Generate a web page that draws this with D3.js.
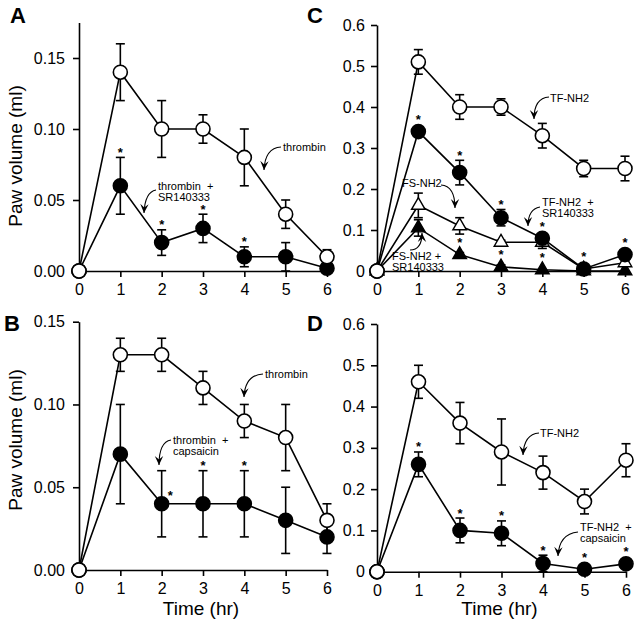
<!DOCTYPE html>
<html>
<head>
<meta charset="utf-8">
<script src="https://cdn.jsdelivr.net/npm/d3@7"></script>
<style>
  html, body { margin: 0; padding: 0; background: #fff; }
  svg { display: block; }
  text { font-family: "Liberation Sans", Arial, Helvetica, sans-serif; }
</style>
</head>
<body>
<svg id="chart" width="640" height="627"></svg>
<script>
// ---------- data ----------
const timeHr = [0, 1, 2, 3, 4, 5, 6];
const xTickValues = [0, 1, 2, 3, 4, 5, 6];

// Panel A
const aThrombin      = [0, 0.14, 0.10, 0.10, 0.08, 0.04, 0.01];
const aThrombinErr   = [0, 0.02, 0.02, 0.01, 0.02, 0.01, 0.005];
const aThrombinSR    = [0, 0.06, 0.02, 0.03, 0.01, 0.01, 0.002];
const aThrombinSRErr = [0, 0.02, 0.009, 0.01, 0.007, 0.01, 0];
const aThrombinSRStars = [1, 2, 3, 4];
const aYTicks = [0, 0.05, 0.10, 0.15];

// Panel B
const bThrombin        = [0, 0.13, 0.13, 0.11, 0.09, 0.08, 0.03];
const bThrombinErr     = [0, 0.01, 0.01, 0.01, 0.01, 0.02, 0.01];
const bThrombinCaps    = [0, 0.07, 0.04, 0.04, 0.04, 0.03, 0.02];
const bThrombinCapsErr = [0, 0.03, 0.02, 0.02, 0.02, 0.02, 0.01];
const bThrombinCapsStars = [2, 3, 4];
const bThrombinCapsStarsBeside = [2];
const bYTicks = [0, 0.05, 0.10, 0.15];

// Panel C
const cTF      = [0, 0.51, 0.40, 0.40, 0.33, 0.25, 0.25];
const cTFErr   = [0, 0.03, 0.03, 0.02, 0.03, 0.02, 0.03];
const cTFSR    = [0, 0.34, 0.24, 0.13, 0.08, 0.005, 0.04];
const cTFSRErr = [0, 0.01, 0.03, 0.02, 0.01, 0, 0.005];
const cTFSRStars = [1, 2, 3, 4, 5, 6];
const cFS      = [0, 0.16, 0.11, 0.07, 0.07, 0.005, 0.02];
const cFSErr   = [0, 0.03, 0.02, 0.005, 0.015, 0, 0.005];
const cFSSR    = [0, 0.105, 0.04, 0.01, 0.003, 0, 0];
const cFSSRErr = [0, 0.02, 0.005, 0.005, 0, 0, 0];
const cFSSRStars = [2, 3, 4];
const cYTicks = [0, 0.1, 0.2, 0.3, 0.4, 0.5, 0.6];

// Panel D
const dTF        = [0, 0.46, 0.36, 0.29, 0.24, 0.17, 0.27];
const dTFErr     = [0, 0.04, 0.05, 0.08, 0.04, 0.03, 0.04];
const dTFCaps    = [0, 0.26, 0.10, 0.093, 0.02, 0.006, 0.019];
const dTFCapsErr = [0, 0.03, 0.03, 0.03, 0.02, 0, 0];
const dTFCapsStars = [1, 2, 3, 4, 5, 6];
const dYTicks = [0, 0.1, 0.2, 0.3, 0.4, 0.5, 0.6];

// ---------- drawing ----------
const svg = d3.select("#chart");
svg.append("rect").attr("width", 640).attr("height", 627).attr("fill", "#fff");

function mkSeries(values, errs, marker, fill, stars, beside) {
  return { values, errs, marker, fill, stars: stars || [], beside: beside || [] };
}

function arrow(g, tail, ctrl, tip) {
  g.append("path")
    .attr("d", `M${tail[0]},${tail[1]} Q${ctrl[0]},${ctrl[1]} ${tip[0]},${tip[1]}`)
    .attr("fill", "none").attr("stroke", "#000").attr("stroke-width", 1.1);
  const dx = tip[0] - ctrl[0], dy = tip[1] - ctrl[1];
  const L = Math.hypot(dx, dy) || 1;
  const ux = dx / L, uy = dy / L, px = -uy, py = ux;
  const len = 9, w = 4.2, notch = 5.5;
  const p = [
    [tip[0], tip[1]],
    [tip[0] - ux * len + px * w, tip[1] - uy * len + py * w],
    [tip[0] - ux * notch, tip[1] - uy * notch],
    [tip[0] - ux * len - px * w, tip[1] - uy * len - py * w]
  ];
  g.append("path").attr("d", "M" + p.map(q => q.join(",")).join("L") + "Z").attr("fill", "#000");
}

function label(g, lines, x, y0, lh) {
  lines.forEach((t, i) => {
    g.append("text").attr("x", x).attr("y", y0 + i * lh)
      .attr("font-size", 11).attr("fill", "#000")
      .attr("xml:space", "preserve").style("white-space", "pre").text(t);
  });
}

function panel(cfg) {
  const g = svg.append("g");
  const x = d3.scaleLinear().domain([0, 6]).range(cfg.xRange);
  const y = d3.scaleLinear().domain(cfg.yDomain).range(cfg.yRange);

  // axes
  const yAxis = d3.axisLeft(y).tickValues(cfg.yTicks).tickFormat(cfg.fmt)
    .tickSize(6).tickSizeOuter(0).tickPadding(cfg.yPad);
  const ya = g.append("g").attr("transform", `translate(${cfg.xRange[0]},0)`).call(yAxis);
  const xAxis = d3.axisBottom(x).tickValues(xTickValues).tickFormat(d3.format("d"))
    .tickSize(6).tickSizeOuter(0).tickPadding(7);
  const xa = g.append("g").attr("transform", `translate(0,${cfg.yRange[0]})`).call(xAxis);
  [ya, xa].forEach(a => {
    a.selectAll("path.domain").attr("stroke", "#000").attr("stroke-width", 1.6);
    a.selectAll(".tick line").attr("stroke", "#000").attr("stroke-width", 1.6);
    a.selectAll(".tick text").attr("font-size", 16).attr("fill", "#000")
      .attr("font-family", "'Liberation Sans', Arial, sans-serif");
  });

  const line = d3.line().x((d, i) => x(timeHr[i])).y(d => y(d));
  cfg.series.forEach(s => {
    g.append("path").attr("d", line(s.values)).attr("fill", "none")
      .attr("stroke", "#000").attr("stroke-width", 1.6);
  });
  // error bars
  cfg.series.forEach(s => {
    s.values.forEach((v, i) => {
      const e = s.errs[i];
      if (!e) return;
      const cx = x(timeHr[i]);
      const y1 = y(v + e), y2 = y(Math.max(0, v - e));
      g.append("line").attr("x1", cx).attr("x2", cx).attr("y1", y1).attr("y2", y2)
        .attr("stroke", "#000").attr("stroke-width", 1.6);
      [y1, y2].forEach(yy => g.append("line").attr("x1", cx - 4.5).attr("x2", cx + 4.5)
        .attr("y1", yy).attr("y2", yy).attr("stroke", "#000").attr("stroke-width", 1.6));
    });
  });
  // markers (filled series first, open on top)
  const order = cfg.series.slice().reverse();
  order.forEach(s => {
    s.values.forEach((v, i) => {
      const cx = x(timeHr[i]), cy = y(v);
      if (s.marker === "circle") {
        g.append("circle").attr("cx", cx).attr("cy", cy).attr("r", 7)
          .attr("fill", s.fill).attr("stroke", "#000").attr("stroke-width", 1.6);
      } else {
        g.append("path").attr("d", d3.symbol(d3.symbolTriangle, 80)())
          .attr("transform", `translate(${cx},${cy})`)
          .attr("fill", s.fill).attr("stroke", "#000").attr("stroke-width", 1.4);
      }
    });
  });
  // origin open marker on top
  g.append("circle").attr("cx", x(0)).attr("cy", y(0)).attr("r", 7)
    .attr("fill", "#fff").attr("stroke", "#000").attr("stroke-width", 1.6);
  // asterisks
  cfg.series.forEach(s => {
    s.stars.forEach(i => {
      const v = s.values[i], e = s.errs[i];
      const cx = x(timeHr[i]);
      let sx = cx, cyStar;
      if (s.beside.includes(i)) {
        sx = cx + 8.5;
        cyStar = y(v) - 11;
      } else {
        cyStar = Math.min(y(v + e), y(v) - 7) - 8;
      }
      g.append("text").attr("x", sx).attr("y", cyStar + 7.5)
        .attr("text-anchor", "middle").attr("font-size", 13).attr("font-weight", "bold")
        .attr("fill", "#000").text("*");
    });
  });

  // panel letter
  g.append("text").attr("x", cfg.letterPos[0]).attr("y", cfg.letterPos[1])
    .attr("font-size", 22).attr("font-weight", "bold").attr("fill", "#000").text(cfg.letter);

  // axis titles
  if (cfg.yTitle) {
    g.append("text").attr("transform", `translate(22,${cfg.yTitleY}) rotate(-90)`)
      .attr("text-anchor", "middle").attr("font-size", 19).attr("fill", "#000").text("Paw volume (ml)");
  }
  if (cfg.xTitle) {
    g.append("text").attr("x", (cfg.xRange[0] + cfg.xRange[1]) / 2 - 2).attr("y", 615)
      .attr("text-anchor", "middle").attr("font-size", 19).attr("fill", "#000").text("Time (hr)");
  }
  cfg.annot(g);
}

panel({
  letter: "A", letterPos: [10, 23],
  xRange: [79, 327], yDomain: [0, 0.175], yRange: [271, 22.5],
  yTicks: aYTicks, fmt: d3.format(".2f"), yPad: 8, yTitle: true, yTitleY: 156,
  series: [
    mkSeries(aThrombin, aThrombinErr, "circle", "#fff"),
    mkSeries(aThrombinSR, aThrombinSRErr, "circle", "#000", aThrombinSRStars)
  ],
  annot: g => {
    label(g, ["thrombin"], 283, 151, 11);
    arrow(g, [281, 147], [265, 148], [264, 170]);
    label(g, ["thrombin  +", "SR140333"], 158, 190, 10.5);
    arrow(g, [156, 190], [145, 192], [144, 213]);
  }
});

panel({
  letter: "B", letterPos: [4, 331],
  xRange: [79, 327], yDomain: [0, 0.15], yRange: [570, 321.7],
  yTicks: bYTicks, fmt: d3.format(".2f"), yPad: 8, yTitle: true, yTitleY: 440, xTitle: true,
  series: [
    mkSeries(bThrombin, bThrombinErr, "circle", "#fff"),
    mkSeries(bThrombinCaps, bThrombinCapsErr, "circle", "#000", bThrombinCapsStars, bThrombinCapsStarsBeside)
  ],
  annot: g => {
    label(g, ["thrombin"], 265, 378, 11);
    arrow(g, [263, 374], [245, 375], [244, 397]);
    label(g, ["thrombin  +", "capsaicin"], 173, 444, 10.5);
    arrow(g, [171, 440], [159, 442], [159, 465]);
  }
});

panel({
  letter: "C", letterPos: [307, 23],
  xRange: [377, 625], yDomain: [0, 0.6], yRange: [271, 25],
  yTicks: cYTicks, fmt: d => d === 0 ? "0" : d3.format(".1f")(d), yPad: 6,
  series: [
    mkSeries(cTF, cTFErr, "circle", "#fff"),
    mkSeries(cTFSR, cTFSRErr, "circle", "#000", cTFSRStars),
    mkSeries(cFS, cFSErr, "triangle", "#fff"),
    mkSeries(cFSSR, cFSSRErr, "triangle", "#000", cFSSRStars)
  ],
  annot: g => {
    label(g, ["TF-NH2"], 550, 102, 11);
    arrow(g, [549, 97], [534, 98], [534, 119]);
    label(g, ["FS-NH2"], 402, 187, 11);
    arrow(g, [441, 185], [455, 186], [455, 208]);
    label(g, ["TF-NH2  +", "SR140333"], 542, 206, 11);
    arrow(g, [540, 207], [528, 209], [528, 226]);
    label(g, ["FS-NH2 +", "SR140333"], 392, 260, 11);
    arrow(g, [410, 250], [422, 250], [422, 233]);
  }
});

panel({
  letter: "D", letterPos: [307, 331],
  xRange: [377, 626], yDomain: [0, 0.6], yRange: [571.7, 324],
  yTicks: dYTicks, fmt: d => d === 0 ? "0" : d3.format(".1f")(d), yPad: 6, xTitle: true,
  series: [
    mkSeries(dTF, dTFErr, "circle", "#fff"),
    mkSeries(dTFCaps, dTFCapsErr, "circle", "#000", dTFCapsStars)
  ],
  annot: g => {
    label(g, ["TF-NH2"], 540, 437, 11);
    arrow(g, [539, 433], [524, 434], [523, 455]);
    label(g, ["TF-NH2  +", "capsaicin"], 580, 531, 11);
    arrow(g, [578, 532], [559, 534], [558, 556]);
  }
});
</script>
</body>
</html>
